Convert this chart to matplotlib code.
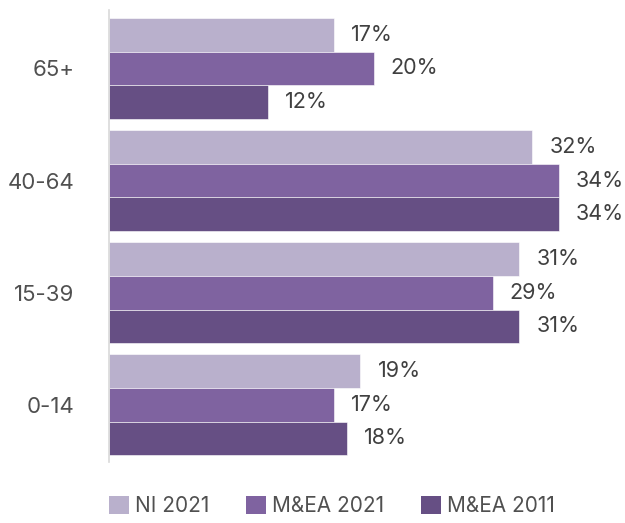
import matplotlib.pyplot as plt
import numpy as np

# data, top to bottom as in the chart
groups = ['65+', '40-64', '15-39', '0-14']
ni_2021 = [17, 32, 31, 19]
mea_2021 = [20, 34, 29, 17]
mea_2011 = [12, 34, 31, 18]
series_names = ['NI 2021', 'M&EA 2021', 'M&EA 2011']
colors = ['#b9b0cc', '#7f63a0', '#664f84']

plt.rcParams['font.family'] = ['Inter', 'DejaVu Sans']

fig = plt.figure(figsize=(6.25, 5.23), dpi=100)
ax = fig.add_axes([0.1744, 0.1166, 0.80, 0.864])

y = np.arange(len(groups))
h = 0.3
text_col = '#404040'
for i, (vals, name, col) in enumerate(zip([ni_2021, mea_2021, mea_2011], series_names, colors)):
    pos = y + (i - 1) * h
    ax.barh(pos, vals, height=h, color=col, label=name, edgecolor='white', linewidth=0.4)
    for p, v in zip(pos, vals):
        ax.text(v + 1.3, p, f'{v}%', va='center', ha='left', fontsize=15.5, color=text_col)

ax.set_xlim(0, 37.8)
ax.set_ylim(3.51, -0.52)
ax.set_yticks(y)
ax.set_yticklabels(groups, fontsize=16, color='#505050')
ax.tick_params(axis='y', length=0, pad=25)
ax.set_xticks([])
for s in ['top', 'right', 'bottom']:
    ax.spines[s].set_visible(False)
ax.spines['left'].set_color('#d9d9d9')
ax.spines['left'].set_linewidth(1.2)

leg = fig.legend(loc='lower left', bbox_to_anchor=(0.145, -0.022), ncol=3, frameon=False,
                 fontsize=15, handlelength=0.95, handleheight=0.95, handletextpad=0.3,
                 columnspacing=1.75, labelcolor='#505050')
for hnd in leg.legend_handles:
    hnd.set_edgecolor('none')

plt.savefig('out.png', dpi=100)
